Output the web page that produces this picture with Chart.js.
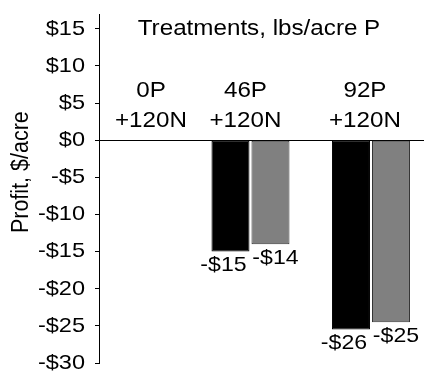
<!DOCTYPE html>
<html>
<head>
<meta charset="utf-8">
<script src="https://cdn.jsdelivr.net/npm/chart.js@4/dist/chart.umd.min.js"></script>
<style>
  html, body { margin: 0; padding: 0; background: #fff; }
  #wrap { width: 424px; height: 371px; }
</style>
</head>
<body>
<div id="wrap"><canvas id="c" width="424" height="371"></canvas></div>
<script>
// Treatments (lbs/acre P, each with 120 lbs N)
const categories = [['0P', '+120N'], ['46P', '+120N'], ['92P', '+120N']];
// Profit, $/acre, for the two comparisons
const seriesBlack = [0, -15, -25.5];
const seriesGray = [0, -14, -24.5];
const yTickValues = [-30, -25, -20, -15, -10, -5, 0, 5, 10, 15];
const chartTitle = 'Treatments, lbs/acre P';
const yTitle = 'Profit, $/acre';

const FONT = "'Liberation Sans', Arial, sans-serif";
const TEXT_STRETCH = 1.1;   // slightly widened lettering

function money(v) {
  const r = Math.sign(v) * Math.round(Math.abs(v));
  return (r < 0 ? '-' : '') + '$' + Math.abs(r);
}

function points(values) {
  return values.map((v, i) => ({ x: i, y: v }));
}

function wideText(ctx, text, x, y) {
  ctx.save();
  ctx.translate(x, y);
  ctx.scale(TEXT_STRETCH, 1);
  ctx.fillText(text, 0, 0);
  ctx.restore();
}

// Axis title, category captions, heading and value labels
const annotate = {
  id: 'annotate',
  afterDatasetsDraw(chart) {
    const ctx = chart.ctx;
    const xs = chart.scales.x;
    const ys = chart.scales.y;
    const zero = ys.getPixelForValue(0);
    const shift = [21, -5, -6];
    ctx.save();
    ctx.fillStyle = '#000';
    ctx.textAlign = 'center';
    ctx.textBaseline = 'middle';

    // vertical axis title
    ctx.save();
    ctx.font = '21.5px ' + FONT;
    ctx.translate(21, ys.getPixelForValue(-4.3));
    ctx.rotate(-Math.PI / 2);
    ctx.scale(1, TEXT_STRETCH);
    ctx.fillText(yTitle, 0, 0);
    ctx.restore();

    ctx.font = '22px ' + FONT;
    wideText(ctx, chartTitle, 259, ys.getPixelForValue(15));

    categories.forEach((lines, i) => {
      const cx = xs.getPixelForValue(i) + shift[i];
      wideText(ctx, lines[0], cx, zero - 49);
      wideText(ctx, lines[1], cx, zero - 19);
    });

    ctx.font = '21px ' + FONT;
    const dx = [-7, 5];
    chart.data.datasets.forEach((ds, di) => {
      const meta = chart.getDatasetMeta(di);
      meta.data.forEach((bar, i) => {
        const v = ds.data[i].y;
        if (v === 0) return;
        wideText(ctx, money(v), bar.x + dx[di], bar.y + 14);
      });
    });
    ctx.restore();
  }
};

new Chart(document.getElementById('c'), {
  type: 'bar',
  data: {
    datasets: [
      {
        label: 'A',
        data: points(seriesBlack),
        backgroundColor: '#000',
        borderColor: '#000',
        borderWidth: 1,
        borderSkipped: false,
        barPercentage: 0.95,
        categoryPercentage: 0.664
      },
      {
        label: 'B',
        data: points(seriesGray),
        backgroundColor: '#808080',
        borderColor: '#333',
        borderWidth: 1,
        borderSkipped: false,
        barPercentage: 0.95,
        categoryPercentage: 0.664
      }
    ]
  },
  options: {
    responsive: false,
    animation: false,
    devicePixelRatio: 1,
    layout: { padding: { top: 14, bottom: 8, left: 0, right: 0 } },
    plugins: {
      legend: { display: false },
      tooltip: { enabled: false }
    },
    scales: {
      x: {
        type: 'linear',
        display: false,
        offset: false,
        min: -0.257,
        max: 2.44,
        afterBuildTicks(scale) {
          scale.ticks = categories.map((_, i) => ({ value: i }));
        }
      },
      y: {
        min: -30,
        max: 17,
        afterBuildTicks(scale) {
          scale.ticks = yTickValues.map(v => ({ value: v }));
        },
        afterFit(scale) {
          scale.width = 99;
          scale.paddingTop = 0;
          scale.paddingBottom = 0;
          if (!scale._wideLabels) {
            const base = Object.getPrototypeOf(scale).drawLabels;
            scale.drawLabels = function (area) {
              const ctx = this.ctx;
              const ax = this.right - 4 - 10;
              ctx.save();
              ctx.translate(ax, 0);
              ctx.scale(1.12, 1);
              ctx.translate(-ax, 0);
              base.call(this, area);
              ctx.restore();
            };
            scale._wideLabels = true;
          }
        },
        border: { display: true, color: '#000', width: 1 },
        grid: {
          color: c => (c.tick && c.tick.value === 0 ? '#000' : 'rgba(0,0,0,0)'),
          tickColor: '#000',
          tickLength: 4,
          lineWidth: 1
        },
        ticks: {
          color: '#000',
          padding: 10,
          font: { family: FONT, size: 21, lineHeight: 0.7 },
          callback: v => money(v)
        },
        title: { display: false }
      }
    }
  },
  plugins: [annotate]
});
</script>
</body>
</html>
